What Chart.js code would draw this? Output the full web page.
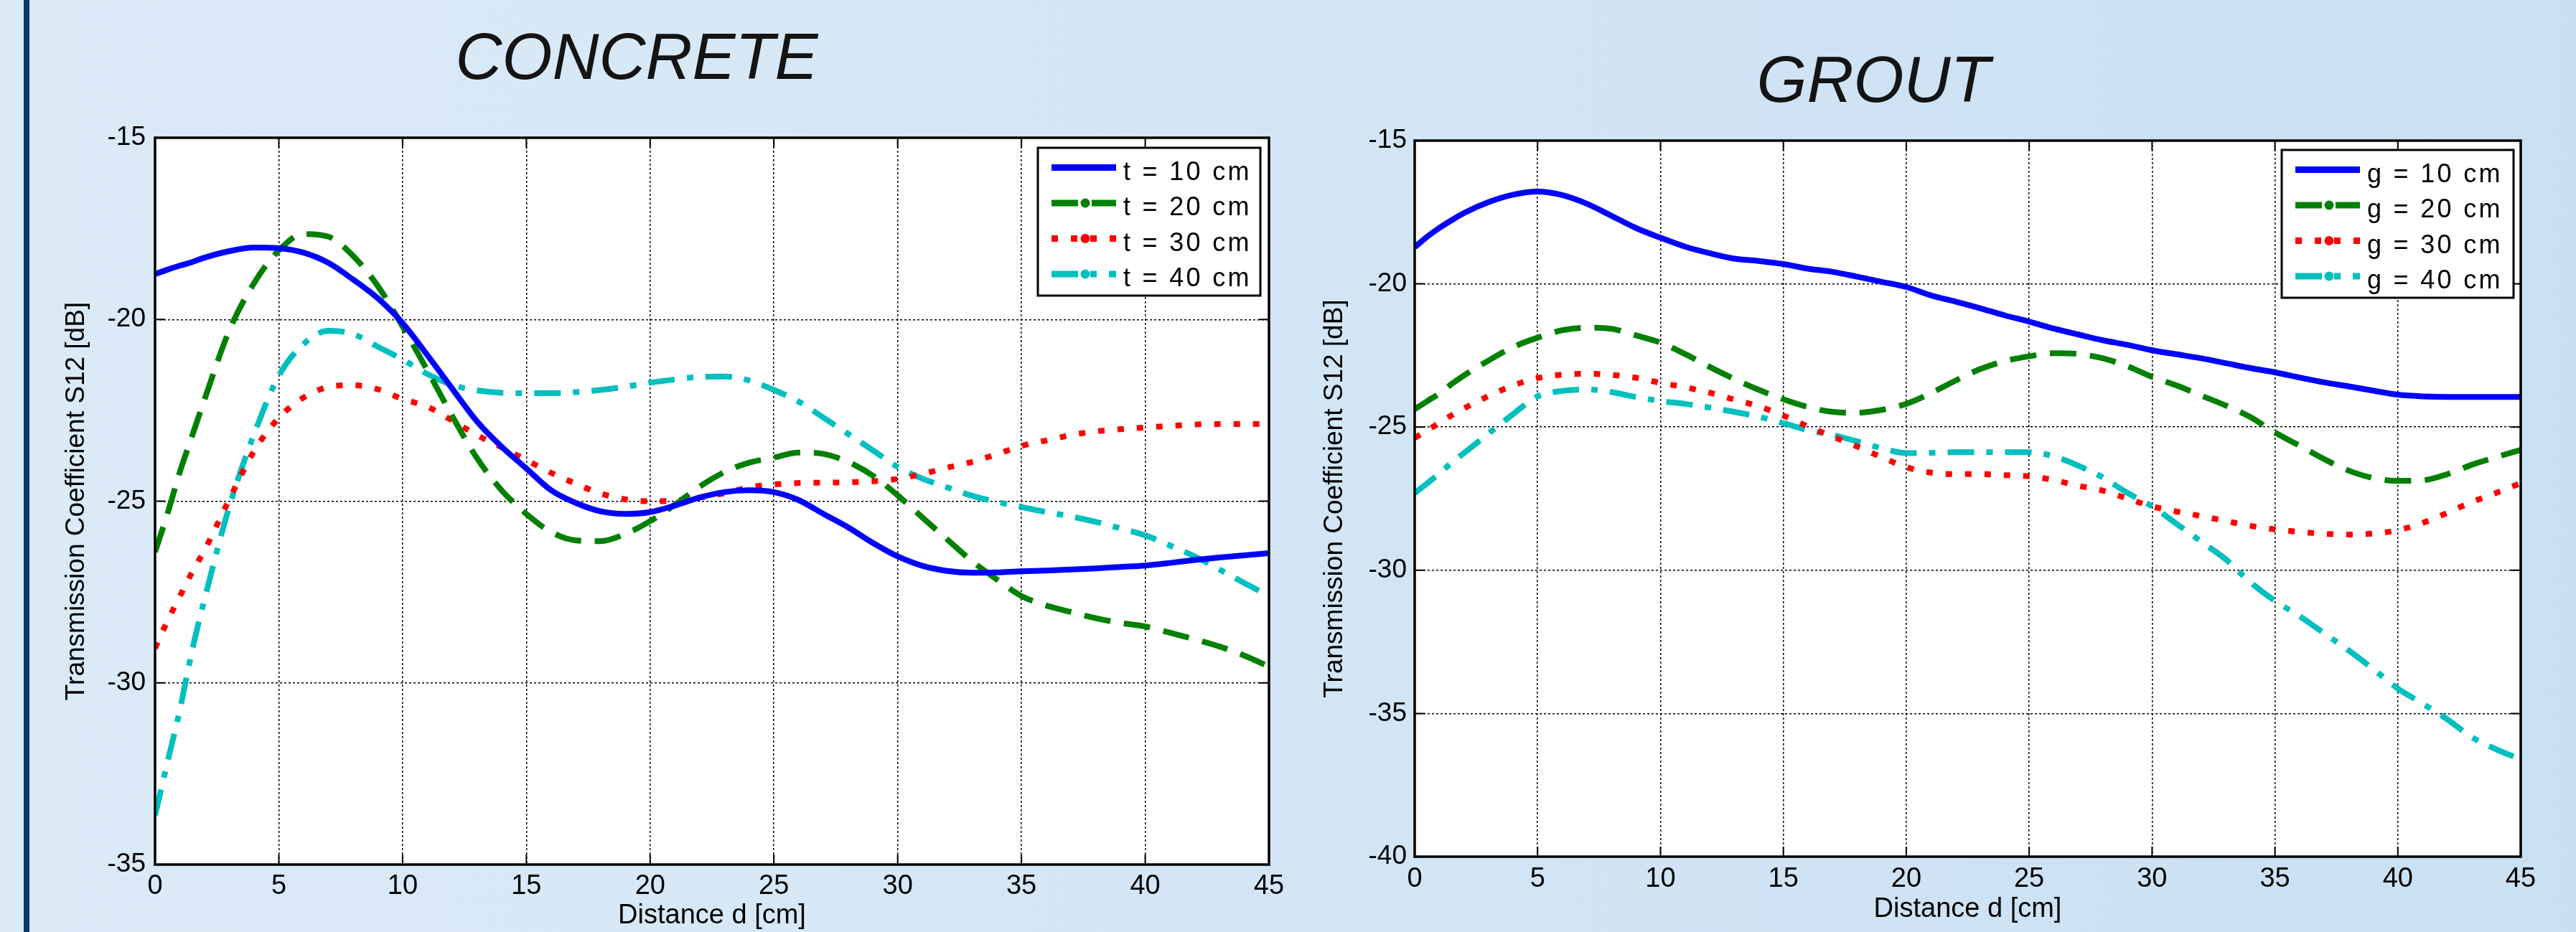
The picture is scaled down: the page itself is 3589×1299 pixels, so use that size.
<!DOCTYPE html>
<html>
<head>
<meta charset="utf-8">
<script src="https://cdn.jsdelivr.net/npm/chart.js@4.4.1/dist/chart.umd.min.js"></script>
<style>
  html, body { margin: 0; padding: 0; }
  body {
    width: 3589px; height: 1299px; overflow: hidden; position: relative;
    background: linear-gradient(90deg, #dbeaf7 0%, #d4e6f5 45%, #c9e0f3 100%);
  }
  #bar { position: absolute; left: 33px; top: 0; width: 8px; height: 1299px; background: #0b3768; }
  canvas { position: absolute; top: 0; }
  #concrete { left: 0; }
  #grout { left: 1800px; }
</style>
</head>
<body>
<div id="bar"></div>
<canvas id="concrete" width="1800" height="1299"></canvas>
<canvas id="grout" width="1789" height="1299"></canvas>
<script>
// distance d [cm], shared by every curve
const distance = [0, 0.5, 1, 1.5, 2,
  3, 4, 5, 6, 7, 8, 9, 10, 11, 12,
  13, 14, 15, 16, 17, 18, 19, 20, 21, 22,
  23, 24, 25, 26, 27, 28, 29, 30, 31, 32,
  33, 34, 35, 36, 37, 38, 39, 40, 41, 42,
  43, 44, 45];

// CONCRETE, S12 [dB]
const concreteT10 = [-18.75, -18.63, -18.52, -18.42, -18.30,
  -18.12, -18.02, -18.04, -18.16, -18.44, -18.90, -19.42, -20.10, -20.98, -21.90,
  -22.80, -23.50, -24.10, -24.70, -25.05, -25.28, -25.35, -25.30, -25.12, -24.90,
  -24.75, -24.70, -24.75, -24.97, -25.35, -25.72, -26.15, -26.52, -26.78, -26.92,
  -26.97, -26.96, -26.93, -26.91, -26.88, -26.85, -26.81, -26.77, -26.70, -26.62,
  -26.55, -26.49, -26.43];
const concreteT20 = [-26.40, -25.35, -24.20, -23.20, -22.20,
  -20.30, -19.00, -18.10, -17.65, -17.72, -18.25, -19.08, -20.19, -21.40, -22.65,
  -23.81, -24.70, -25.35, -25.85, -26.08, -26.10, -25.90, -25.55, -25.10, -24.60,
  -24.20, -23.94, -23.80, -23.66, -23.70, -23.92, -24.30, -24.84, -25.45, -26.05,
  -26.65, -27.15, -27.61, -27.87, -28.05, -28.22, -28.35, -28.45, -28.62, -28.80,
  -29.00, -29.25, -29.55];
const concreteT30 = [-29.05, -28.30, -27.62, -26.95, -26.35,
  -24.95, -23.62, -22.71, -22.15, -21.86, -21.81, -21.92, -22.19, -22.40, -22.78,
  -23.18, -23.52, -23.87, -24.22, -24.52, -24.79, -24.95, -25.00, -24.98, -24.90,
  -24.78, -24.62, -24.54, -24.50, -24.49, -24.48, -24.45, -24.39, -24.25, -24.08,
  -23.92, -23.71, -23.48, -23.33, -23.18, -23.08, -23.02, -22.97, -22.93, -22.89,
  -22.88, -22.88, -22.88];
const concreteT40 = [-33.65, -32.19, -30.75, -29.10, -27.70,
  -25.15, -23.16, -21.55, -20.68, -20.31, -20.40, -20.75, -21.10, -21.50, -21.80,
  -21.95, -22.02, -22.03, -22.03, -22.00, -21.94, -21.85, -21.74, -21.65, -21.58,
  -21.57, -21.68, -21.94, -22.26, -22.70, -23.15, -23.60, -24.06, -24.38, -24.62,
  -24.85, -25.02, -25.16, -25.30, -25.42, -25.57, -25.75, -25.94, -26.22, -26.52,
  -26.88, -27.25, -27.61];

// GROUT, S12 [dB]
const groutG10 = [-18.72, -18.36, -18.05, -17.78, -17.53,
  -17.15, -16.89, -16.78, -16.90, -17.20, -17.62, -18.05, -18.39, -18.70, -18.93,
  -19.12, -19.20, -19.31, -19.47, -19.58, -19.75, -19.93, -20.11, -20.40, -20.62,
  -20.85, -21.10, -21.32, -21.56, -21.77, -21.97, -22.13, -22.32, -22.46, -22.60,
  -22.77, -22.94, -23.09, -23.27, -23.44, -23.58, -23.73, -23.87, -23.93, -23.95,
  -23.95, -23.95, -23.95];
const groutG20 = [-24.38, -24.10, -23.83, -23.50, -23.20,
  -22.68, -22.21, -21.88, -21.62, -21.53, -21.57, -21.80, -22.05, -22.45, -22.90,
  -23.32, -23.70, -24.03, -24.30, -24.47, -24.50, -24.40, -24.19, -23.82, -23.38,
  -22.98, -22.70, -22.53, -22.42, -22.45, -22.60, -22.88, -23.25, -23.55, -23.90,
  -24.25, -24.65, -25.19, -25.65, -26.12, -26.52, -26.78, -26.88, -26.86, -26.65,
  -26.32, -26.05, -25.80];
const groutG30 = [-25.38, -25.12, -24.86, -24.59, -24.35,
  -23.92, -23.55, -23.29, -23.17, -23.14, -23.18, -23.28, -23.46, -23.61, -23.80,
  -24.04, -24.28, -24.60, -24.98, -25.33, -25.68, -26.05, -26.40, -26.59, -26.64,
  -26.64, -26.68, -26.72, -26.85, -27.05, -27.22, -27.50, -27.77, -27.95, -28.11,
  -28.28, -28.45, -28.57, -28.66, -28.73, -28.75, -28.72, -28.60, -28.35, -28.00,
  -27.62, -27.30, -26.96];
const groutG40 = [-27.31, -26.97, -26.62, -26.25, -25.91,
  -25.23, -24.55, -23.93, -23.74, -23.69, -23.78, -23.95, -24.09, -24.19, -24.32,
  -24.47, -24.64, -24.86, -25.11, -25.27, -25.50, -25.74, -25.91, -25.90, -25.88,
  -25.88, -25.88, -25.88, -26.02, -26.35, -26.76, -27.30, -27.77, -28.38, -29.00,
  -29.62, -30.42, -31.07, -31.60, -32.20, -32.80, -33.45, -34.13, -34.65, -35.20,
  -35.82, -36.25, -36.60];

const concreteLabels = ["t = 10 cm", "t = 20 cm", "t = 30 cm", "t = 40 cm"];
const groutLabels = ["g = 10 cm", "g = 20 cm", "g = 30 cm", "g = 40 cm"];

const lineColors = ["#0000ff", "#008000", "#ff0000", "#00bfbf"];
const lineDashes = [[], [37, 19], [9, 18], [37, 17, 9, 17]];

const FONT = '"Liberation Sans", Arial, sans-serif';

// white plot box, matlab style frame with inner ticks, title and legend
const matlabBox = {
    id: 'matlabBox',
    beforeDraw(chart) {
        const ca = chart.chartArea;
        const ctx = chart.ctx;
        ctx.save();
        ctx.fillStyle = "#ffffff";
        ctx.fillRect(ca.left, ca.top, ca.right - ca.left, ca.bottom - ca.top);
        ctx.restore();
    },
    afterDatasetsDraw(chart) {
        const ca = chart.chartArea;
        const ctx = chart.ctx;
        ctx.save();
        ctx.strokeStyle = "#000";
        ctx.lineWidth = 2;
        ctx.beginPath();
        chart.scales.x.ticks.forEach(t => {
            let px = chart.scales.x.getPixelForValue(t.value);
            ctx.moveTo(px, ca.bottom); ctx.lineTo(px, ca.bottom - 14);
            ctx.moveTo(px, ca.top); ctx.lineTo(px, ca.top + 14);
        });
        chart.scales.y.ticks.forEach(t => {
            let py = chart.scales.y.getPixelForValue(t.value);
            ctx.moveTo(ca.left, py); ctx.lineTo(ca.left + 14, py);
            ctx.moveTo(ca.right, py); ctx.lineTo(ca.right - 14, py);
        });
        ctx.stroke();
        ctx.lineWidth = 3.5;
        ctx.strokeRect(ca.left, ca.top, ca.right - ca.left, ca.bottom - ca.top);
        ctx.restore();
    },
    afterDraw(chart, args, opts) {
        const ca = chart.chartArea;
        const ctx = chart.ctx;
        ctx.save();

        // heading
        ctx.fillStyle = "#141414";
        ctx.font = "italic 90px " + FONT;
        ctx.textAlign = "center";
        ctx.textBaseline = "alphabetic";
        ctx.fillText(opts.title, opts.titleX, opts.titleY);

        // legend
        let bx = ca.right - opts.legendRight - opts.legendWidth;
        let by = ca.top + opts.legendTop;
        ctx.fillStyle = "#fff";
        ctx.fillRect(bx, by, opts.legendWidth, 206);
        ctx.strokeStyle = "#000";
        ctx.lineWidth = 3;
        ctx.strokeRect(bx, by, opts.legendWidth, 206);

        chart.data.datasets.forEach((ds, i) => {
            let y = by + 27.5 + i * 49.5;
            let x0 = bx + 19;
            ctx.strokeStyle = ds.borderColor;
            ctx.fillStyle = ds.borderColor;
            ctx.lineWidth = 9;
            ctx.setLineDash(ds.borderDash);
            ctx.beginPath();
            ctx.moveTo(x0, y);
            ctx.lineTo(x0 + 90, y);
            ctx.stroke();
            ctx.setLineDash([]);
            if (ds.borderDash.length) {
                ctx.beginPath();
                ctx.arc(x0 + 47, y, 6.5, 0, Math.PI * 2);
                ctx.fill();
            }
            ctx.fillStyle = "#000";
            ctx.font = "36px " + FONT;
            ctx.textAlign = "left";
            ctx.textBaseline = "alphabetic";
            if ('letterSpacing' in ctx) ctx.letterSpacing = "3.3px";
            ctx.fillText(ds.label, bx + 119, y + 17);
            if ('letterSpacing' in ctx) ctx.letterSpacing = "0px";
        });
        ctx.restore();
    }
};

function makeChart(id, series, labels, cfg) {
    let ctx = document.getElementById(id).getContext("2d");
    return new Chart(ctx, {
        type: 'line',
        data: {
            datasets: series.map((s, i) => ({
                label: labels[i],
                data: distance.map((d, j) => ({ x: d, y: s[j] })),
                borderColor: lineColors[i],
                borderDash: lineDashes[i],
                borderWidth: 8,
                pointRadius: 0,
                fill: false,
                cubicInterpolationMode: 'monotone'
            }))
        },
        options: {
            responsive: false,
            animation: false,
            layout: { padding: cfg.padding },
            plugins: {
                legend: { display: false },
                tooltip: { enabled: false },
                matlabBox: cfg.box
            },
            scales: {
                x: {
                    type: 'linear',
                    min: 0, max: 45,
                    ticks: { stepSize: 5, color: "#000", font: { family: FONT, size: 38 }, padding: cfg.xTickPad, maxRotation: 0 },
                    grid: { color: "#000", lineWidth: 1.5, drawTicks: false },
                    border: { display: false, dash: [3, 3] },
                    title: { display: true, text: "Distance d [cm]", color: "#000", font: { family: FONT, size: 38 }, padding: { top: 0, bottom: cfg.xTitlePad } },
                    afterFit(s) { s.height = cfg.xHeight; }
                },
                y: {
                    min: cfg.yMin, max: -15,
                    ticks: { stepSize: 5, color: "#000", font: { family: FONT, size: 37 }, padding: cfg.yTickPad },
                    grid: { color: "#000", lineWidth: 1.5, drawTicks: false },
                    border: { display: false, dash: [3, 3] },
                    title: { display: true, text: "Transmission Coefficient S12 [dB]", color: "#000", font: { family: FONT, size: 37 }, padding: { top: cfg.yTitlePad, bottom: 0 } },
                    afterFit(s) { s.width = cfg.yWidth; }
                }
            }
        },
        plugins: [matlabBox]
    });
}

makeChart("concrete", [concreteT10, concreteT20, concreteT30, concreteT40], concreteLabels, {
    padding: { top: 192, right: 32, bottom: 0, left: 0 },
    yMin: -35, yWidth: 216, xHeight: 94,
    xTickPad: 8, yTickPad: 13, xTitlePad: 0, yTitlePad: 85,
    box: { title: "CONCRETE", titleX: 887, titleY: 110, legendWidth: 310, legendRight: 12, legendTop: 14 }
});

makeChart("grout", [groutG10, groutG20, groutG30, groutG40], groutLabels, {
    padding: { top: 196, right: 77, bottom: 0, left: 0 },
    yMin: -40, yWidth: 171, xHeight: 105,
    xTickPad: 9, yTickPad: 11, xTitlePad: 9, yTitlePad: 38,
    box: { title: "GROUT", titleX: 810, titleY: 142, legendWidth: 323, legendRight: 10, legendTop: 13 }
});
</script>
</body>
</html>
